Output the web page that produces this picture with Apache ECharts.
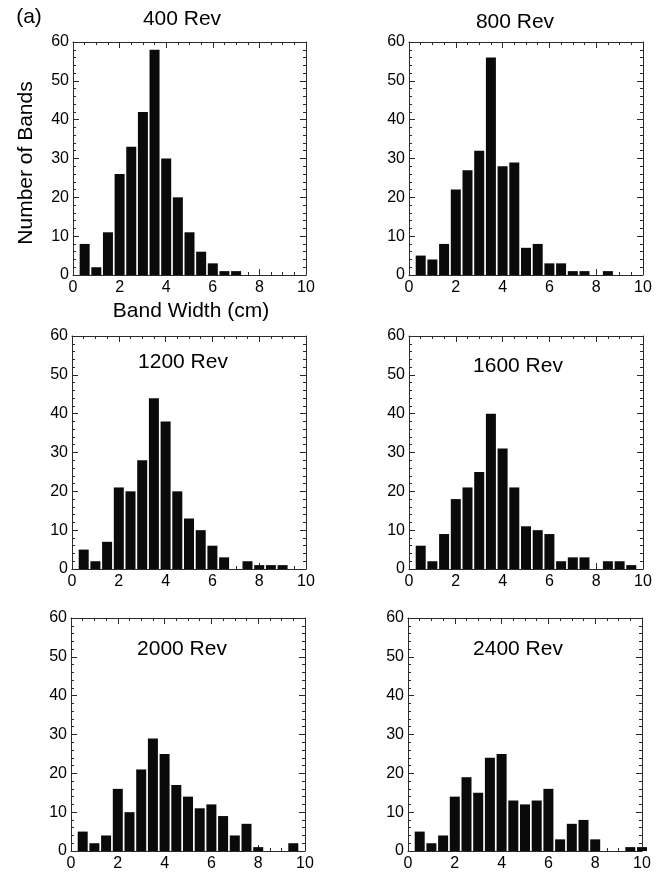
<!DOCTYPE html>
<html>
<head>
<meta charset="utf-8">
<title>Band width histograms</title>
<script src="https://cdn.jsdelivr.net/npm/echarts@6/dist/echarts.min.js"></script>
<style>
html, body { margin: 0; padding: 0; background: #fff; }
#chart { width: 665px; height: 872px; }
</style>
</head>
<body>
<div id="chart"></div>
<script>
// bin centres (cm), 0.5 wide
var binCenters = [0.5, 1, 1.5, 2, 2.5, 3, 3.5, 4, 4.5, 5, 5.5, 6, 6.5, 7, 7.5, 8, 8.5, 9, 9.5, 10];
var panelNames = ['400 Rev', '800 Rev', '1200 Rev', '1600 Rev', '2000 Rev', '2400 Rev'];
var rev400  = [8, 2, 11, 26, 33, 42, 58, 30, 20, 11, 6, 3, 1, 1, 0, 0, 0, 0, 0, 0];
var rev800  = [5, 4, 8, 22, 27, 32, 56, 28, 29, 7, 8, 3, 3, 1, 1, 0, 1, 0, 0, 0];
var rev1200 = [5, 2, 7, 21, 20, 28, 44, 38, 20, 13, 10, 6, 3, 0, 2, 1, 1, 1, 0, 0];
var rev1600 = [6, 2, 9, 18, 21, 25, 40, 31, 21, 11, 10, 9, 2, 3, 3, 0, 2, 2, 1, 0];
var rev2000 = [5, 2, 4, 16, 10, 21, 29, 25, 17, 14, 11, 12, 9, 4, 7, 1, 0, 0, 2, 0];
var rev2400 = [5, 2, 4, 14, 19, 15, 24, 25, 13, 12, 13, 16, 3, 7, 8, 3, 0, 0, 1, 1];
var xTicks = [0, 2, 4, 6, 8, 10];
var yTicks = [0, 10, 20, 30, 40, 50, 60];

var allCounts = [rev400, rev800, rev1200, rev1600, rev2000, rev2400];

var FONT = '"Liberation Sans", Arial, Helvetica, sans-serif';
var frameColor = '#2a2a2a';

// plot frames (px)
var grids = [
    { left: 73,  top: 42,  width: 233, height: 233 },
    { left: 409, top: 42,  width: 234, height: 233 },
    { left: 72,  top: 336, width: 234, height: 233 },
    { left: 409, top: 336, width: 234, height: 233 },
    { left: 71,  top: 618, width: 234, height: 234 },
    { left: 408, top: 618, width: 234, height: 234 }
];
// where each panel's title sits
var titlePos = [[182, 19], [515, 22], [183, 362], [518, 366], [182, 649], [518, 649]];

function xAxisFor(i, pos) {
    return {
        type: 'value', gridIndex: i, position: pos,
        min: xTicks[0], max: xTicks[xTicks.length - 1], interval: 2,
        axisLine: { show: true, onZero: false, lineStyle: { color: frameColor, width: 1 } },
        axisTick: { show: true, inside: true, length: 6, lineStyle: { color: frameColor } },
        minorTick: { show: true, splitNumber: 4, length: 3, lineStyle: { color: frameColor } },
        splitLine: { show: false },
        axisLabel: {
            show: pos === 'bottom', color: '#000', fontSize: 16, fontFamily: FONT, margin: 5,
            showMinLabel: true, showMaxLabel: true
        }
    };
}
function yAxisFor(i, pos) {
    return {
        type: 'value', gridIndex: i, position: pos,
        min: yTicks[0], max: yTicks[yTicks.length - 1], interval: 10,
        axisLine: { show: true, onZero: false, lineStyle: { color: frameColor, width: 1 } },
        axisTick: { show: true, inside: true, length: 6, lineStyle: { color: frameColor } },
        minorTick: { show: true, splitNumber: 5, length: 3, lineStyle: { color: frameColor } },
        splitLine: { show: false },
        axisLabel: {
            show: pos === 'left', color: '#000', fontSize: 16, fontFamily: FONT, margin: 4,
            showMinLabel: true, showMaxLabel: true
        }
    };
}

var xAxes = [], yAxes = [], series = [], texts = [];
grids.forEach(function (g, i) {
    xAxes.push(xAxisFor(i, 'bottom'), xAxisFor(i, 'top'));
    yAxes.push(yAxisFor(i, 'left'), yAxisFor(i, 'right'));
    series.push({
        type: 'bar',
        name: panelNames[i],
        xAxisIndex: 2 * i,
        yAxisIndex: 2 * i,
        barWidth: 10,
        clip: true,
        itemStyle: { color: '#0a0a0a' },
        data: binCenters.map(function (c, k) { return [c, allCounts[i][k]]; })
    });
    texts.push({
        type: 'text', x: titlePos[i][0], y: titlePos[i][1], z: 10,
        style: { text: panelNames[i], font: '21px ' + FONT, fill: '#000', textAlign: 'center', textVerticalAlign: 'middle' }
    });
});

texts.push(
    { type: 'text', x: 29, y: 17,
      style: { text: '(a)', font: '21px ' + FONT, fill: '#000', textAlign: 'center', textVerticalAlign: 'middle' } },
    { type: 'text', x: 26, y: 163, rotation: Math.PI / 2,
      style: { text: 'Number of Bands', font: '21px ' + FONT, fill: '#000', textAlign: 'center', textVerticalAlign: 'middle' } },
    { type: 'text', x: 191, y: 311,
      style: { text: 'Band Width (cm)', font: '21px ' + FONT, fill: '#000', textAlign: 'center', textVerticalAlign: 'middle' } }
);

var chart = echarts.init(document.getElementById('chart'), null, { renderer: 'canvas' });
chart.setOption({
    animation: false,
    backgroundColor: '#fff',
    grid: grids,
    xAxis: xAxes,
    yAxis: yAxes,
    series: series,
    graphic: texts
});
</script>
</body>
</html>
